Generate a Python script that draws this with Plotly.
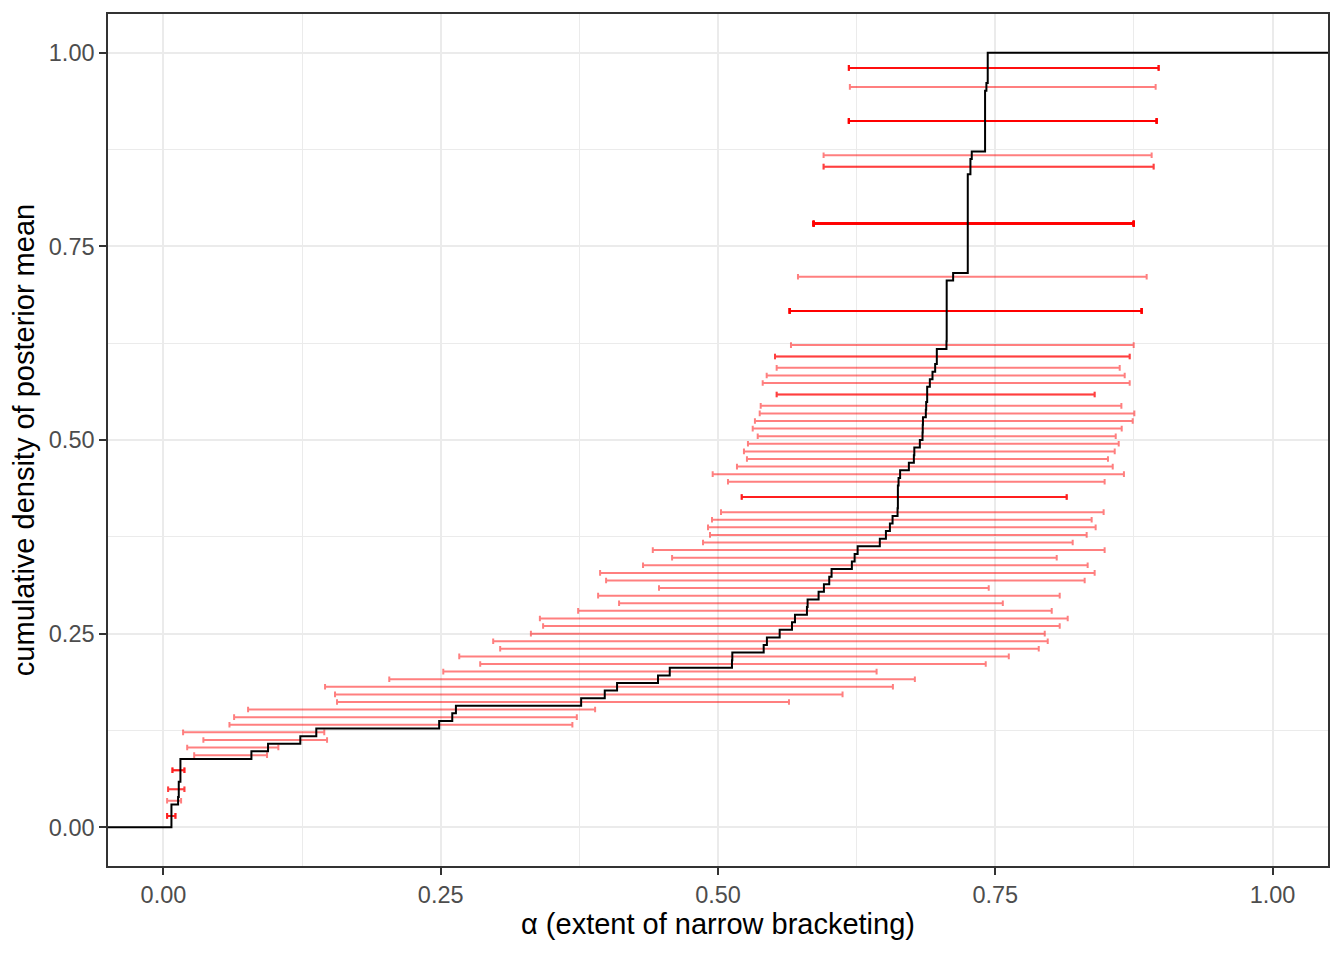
import numpy as np
import plotly.graph_objects as go

# posterior mean of alpha per (tied) group of subjects, how many subjects share it,
# and the credible interval of that group
post_mean = [0.0072, 0.0132, 0.0138, 0.0153, 0.0793, 0.0943, 0.1234, 0.1378,
             0.2486, 0.2604, 0.2637, 0.3766, 0.3979, 0.4090, 0.4459, 0.4565,
             0.5126, 0.5129, 0.5412, 0.5441, 0.5556, 0.5667, 0.5694, 0.5802,
             0.5808, 0.5907, 0.5955, 0.6003, 0.6024, 0.6207, 0.6232, 0.6259,
             0.6459, 0.6514, 0.6550, 0.6574, 0.6619, 0.6622, 0.6628, 0.6642,
             0.6721, 0.6766, 0.6770, 0.6820, 0.6844, 0.6846, 0.6848, 0.6874,
             0.6877, 0.6886, 0.6910, 0.6934, 0.6958, 0.6973, 0.7060, 0.7062,
             0.7120, 0.7252, 0.7276, 0.7288, 0.7408, 0.7420, 0.7432]
n_tied = [3, 1, 2, 3, 1, 1, 1, 1,
          1, 1, 1, 1, 1, 1, 1, 1,
          1, 1, 1, 1, 1, 1, 1, 1,
          1, 1, 1, 1, 1, 1, 1, 1,
          1, 1, 1, 1, 1, 3, 1, 1,
          1, 1, 1, 1, 1, 1, 1, 1,
          1, 2, 1, 1, 1, 2, 1, 8,
          1, 13, 2, 1, 8, 1, 4]
ci_lo = [0.0033, 0.0033, 0.0042, 0.0081, 0.0277, 0.0214, 0.0360, 0.0177,
         0.0595, 0.0637, 0.0763, 0.1565, 0.1547, 0.1457, 0.2036, 0.2523,
         0.2856, 0.2667, 0.3036, 0.2973, 0.3313, 0.3423, 0.3394, 0.3739,
         0.4108, 0.3919, 0.4468, 0.3991, 0.3937, 0.4324, 0.4586, 0.4412,
         0.4865, 0.4928, 0.4910, 0.4946, 0.5027, 0.5214, 0.5090, 0.4952,
         0.5171, 0.5261, 0.5234, 0.5270, 0.5358, 0.5313, 0.5333, 0.5376,
         0.5385, 0.5529, 0.5403, 0.5439, 0.5529, 0.5514, 0.5658, 0.5646,
         0.5721, 0.5862, 0.5952, 0.5952, 0.6180, 0.6189, 0.6180]
ci_hi = [0.0108, 0.0159, 0.0189, 0.0189, 0.0934, 0.1036, 0.1475, 0.1450,
         0.3687, 0.3727, 0.3892, 0.5640, 0.6123, 0.6577, 0.6775, 0.6430,
         0.7414, 0.7622, 0.7892, 0.7973, 0.7946, 0.8081, 0.8153, 0.8009,
         0.7568, 0.8081, 0.7441, 0.8306, 0.8396, 0.8333, 0.8054, 0.8486,
         0.8198, 0.8324, 0.8405, 0.8369, 0.8477, 0.8144, 0.8486, 0.8660,
         0.8559, 0.8516, 0.8577, 0.8613, 0.8586, 0.8640, 0.8739, 0.8754,
         0.8637, 0.8396, 0.8712, 0.8667, 0.8622, 0.8712, 0.8748, 0.8820,
         0.8865, 0.8748, 0.8928, 0.8910, 0.8955, 0.8946, 0.8973]

x_ticks = [0, 0.25, 0.5, 0.75, 1]
y_ticks = [0, 0.25, 0.5, 0.75, 1]

m = np.array(post_mean)
k = np.array(n_tied)
lo = np.array(ci_lo)
hi = np.array(ci_hi)
N = k.sum()
cum = np.cumsum(k)
y_mid = (cum - k / 2) / N   # bar sits in the middle of its ecdf jump

# one row per subject, so tied subjects overlap and darken
rep = np.repeat(np.arange(len(m)), k)

fig = go.Figure()

fig.add_trace(go.Scatter(
    x=m[rep], y=y_mid[rep], mode="markers",
    marker=dict(size=1, color="rgba(0,0,0,0)"),
    error_x=dict(type="data", symmetric=False,
                 array=(hi - m)[rep], arrayminus=(m - lo)[rep],
                 color="rgba(255,0,0,0.5)", thickness=2, width=2.8),
    hoverinfo="skip", showlegend=False))

# ecdf, padded to the panel edges like stat_ecdf
ex = np.concatenate([[-0.05], m, [1.05]])
ey = np.concatenate([[0], cum / N, [1]])
fig.add_trace(go.Scatter(
    x=ex, y=ey, mode="lines", line=dict(color="black", width=2, shape="hv"),
    hoverinfo="skip", showlegend=False))

axis_common = dict(
    automargin=False,
    showgrid=True, gridcolor="#EBEBEB", gridwidth=1.8,
    minor=dict(showgrid=True, gridcolor="#EBEBEB", gridwidth=0.9),
    showline=True, linecolor="#333333", linewidth=1.5, mirror=True,
    ticks="outside", ticklen=7, tickwidth=1.5, tickcolor="#333333",
    tickfont=dict(family="Liberation Sans, Arial", size=23.5, color="#4D4D4D"),
    zeroline=False,
)

fig.update_xaxes(axis_common, range=[-0.05, 1.05], tickvals=x_ticks,
                 ticktext=[f"{v:.2f}" for v in x_ticks],
                 minor_tickvals=[0.125, 0.375, 0.625, 0.875], minor_ticks="",
                 title=dict(text="α (extent of narrow bracketing)",
                            font=dict(family="Liberation Sans, Arial", size=29, color="black"),
                            standoff=7))
fig.update_yaxes(axis_common, range=[-0.05, 1.05], tickvals=y_ticks,
                 ticktext=[f"{v:.2f}" for v in y_ticks],
                 minor_tickvals=[0.125, 0.375, 0.625, 0.875], minor_ticks="",
                 title=dict(text="cumulative density of posterior mean",
                            font=dict(family="Liberation Sans, Arial", size=29, color="black"),
                            standoff=6))

# page body has an 8px margin, so the figure is a bit smaller than the window
fig.update_layout(
    width=1336, height=952,
    margin=dict(l=100, r=16, t=6, b=94),
    plot_bgcolor="white", paper_bgcolor="white",
)

fig.write_html("out.html")
